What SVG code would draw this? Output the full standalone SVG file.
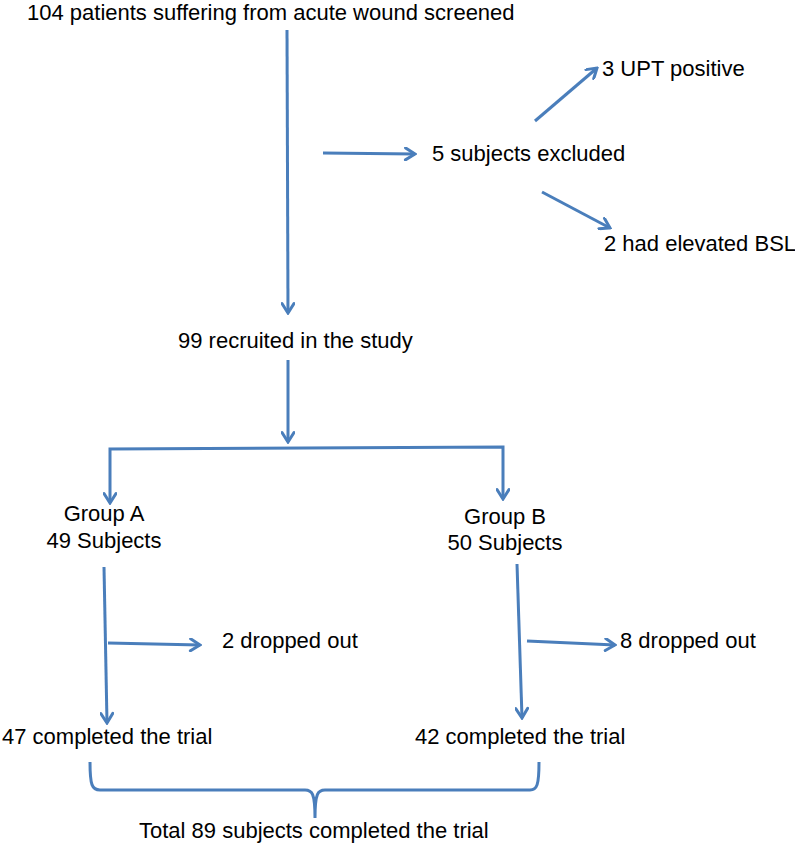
<svg xmlns="http://www.w3.org/2000/svg" width="795" height="845" viewBox="0 0 795 845">
<defs>
<style>
.t{font-family:"Liberation Sans",Arial,sans-serif;font-size:22px;fill:#000}
.c{text-anchor:middle}
.ln{fill:none;stroke:#4A7EBB;stroke-width:3;marker-end:url(#ah)}
.br{fill:none;stroke:#4A7EBB;stroke-width:3}
</style>
<marker id="ah" viewBox="0 0 14 14" refX="12" refY="7" markerWidth="14" markerHeight="14" markerUnits="userSpaceOnUse" orient="auto-start-reverse">
<path d="M2.5,1 L12,7 L2.5,13" fill="none" stroke="#4A7EBB" stroke-width="3" stroke-linecap="round" stroke-linejoin="miter"/>
</marker>
</defs>
<rect width="795" height="845" fill="#fff"/>
<g id="connectors">
<path class="ln" d="M287,30 L288,313"/>
<path class="ln" d="M323,153 L415,154"/>
<path class="ln" d="M535,121 L597,68"/>
<path class="ln" d="M542,192 L610,228"/>
<path class="ln" d="M288,360 L288,442"/>
<path class="ln" d="M110,503 L110,449 L503,447 L503,499" style="marker-start:url(#ah)"/>
<path class="ln" d="M104,567 L107,723"/>
<path class="ln" d="M108,643 L200,645"/>
<path class="ln" d="M517,564 L522,718"/>
<path class="ln" d="M527,641 L615,645"/>
<path class="br" d="M90,762 C90,785 92,790 100,790 L305,790 C312,790 315,793 315,818 C315,793 318,790 325,790 L530,790 C537,790 539,785 539,762"/>
</g>
<g id="screened"><text class="t" x="27" y="20">104 patients suffering from acute wound screened</text></g>
<g id="excluded"><text class="t" x="432" y="161">5 subjects excluded</text></g>
<g id="upt"><text class="t" x="602" y="76">3 UPT positive</text></g>
<g id="bsl"><text class="t" x="604" y="251">2 had elevated BSL</text></g>
<g id="recruited"><text class="t" x="178" y="348">99 recruited in the study</text></g>
<g id="groupA"><text class="t c" x="104" y="521">Group A</text><text class="t c" x="104" y="548">49 Subjects</text></g>
<g id="groupB"><text class="t c" x="505" y="524">Group B</text><text class="t c" x="505" y="550">50 Subjects</text></g>
<g id="dropA"><text class="t" x="222" y="648">2 dropped out</text></g>
<g id="dropB"><text class="t" x="620" y="648">8 dropped out</text></g>
<g id="completeA"><text class="t" x="2" y="744">47 completed the trial</text></g>
<g id="completeB"><text class="t" x="415" y="744">42 completed the trial</text></g>
<g id="total"><text class="t" x="139" y="838">Total 89 subjects completed the trial</text></g>
</svg>
